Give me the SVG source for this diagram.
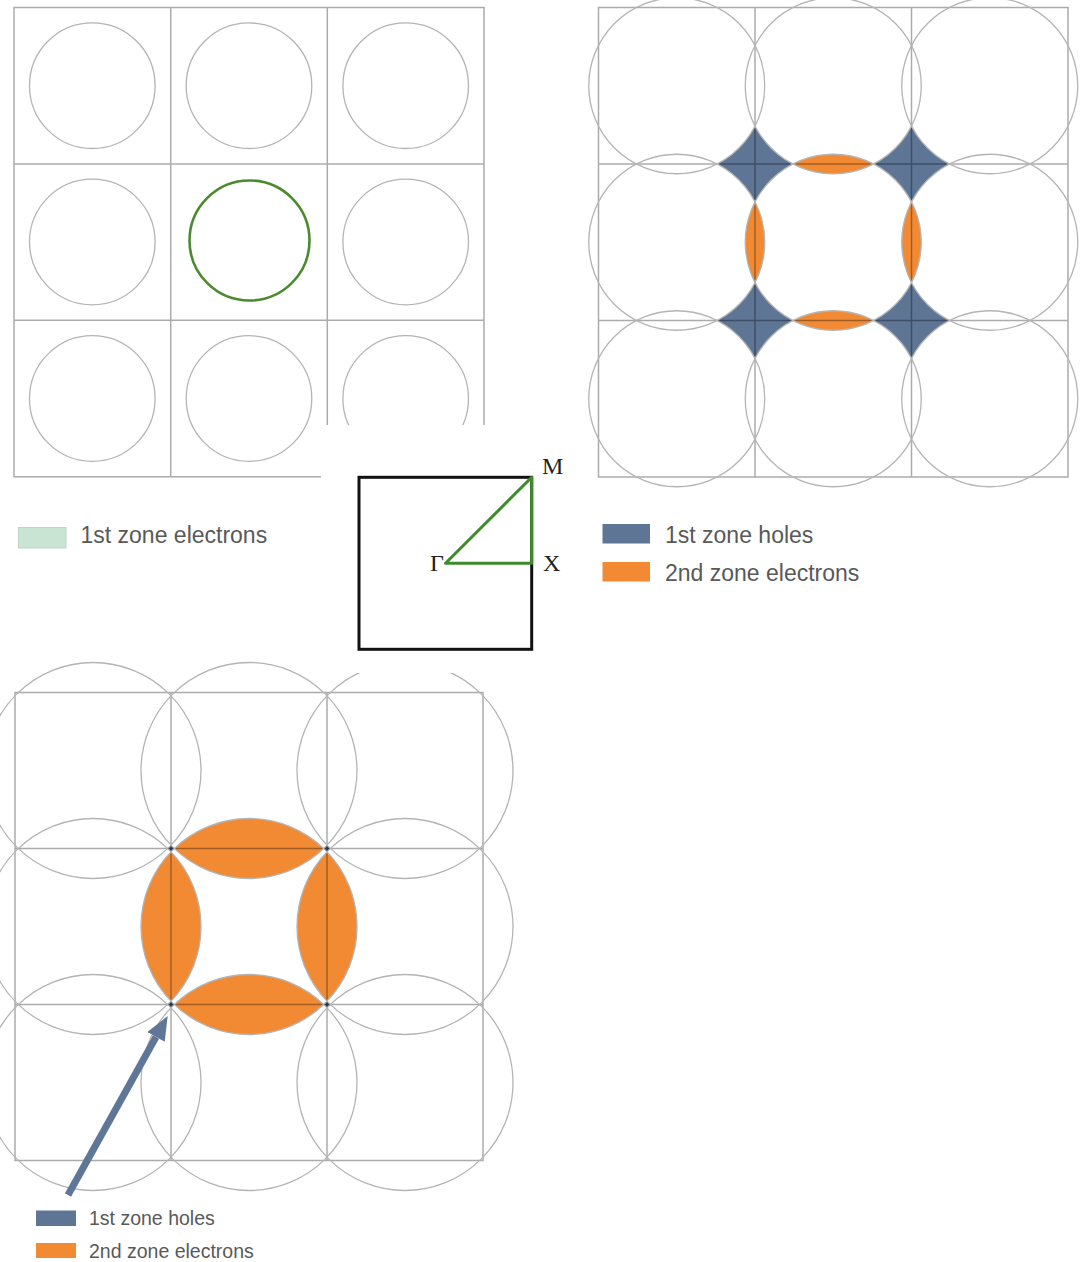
<svg xmlns="http://www.w3.org/2000/svg" width="1083" height="1262" viewBox="0 0 1083 1262">
<style>
.grid{fill:none;stroke:#000;stroke-opacity:0.33;stroke-width:1.5}
.circ{fill:none;stroke:#b4b4b4;stroke-width:1.3}
.hole{fill:#5e7595}
.hole2{fill:#425775}
.elec{fill:#f28a33}
.lbl{font-family:"Liberation Sans",Arial,sans-serif;fill:#595959}
.sym{font-family:"Liberation Serif","Times New Roman",serif;font-size:24px;fill:#222}
</style>
<defs>
<marker id="ah" markerUnits="userSpaceOnUse" markerWidth="24" markerHeight="20" viewBox="0 -10 24 20" refX="0" refY="0" orient="auto">
<path d="M0,-10 L24,0 L0,10 Z" fill="#5f7696"/>
</marker>
</defs>
<rect width="1083" height="1262" fill="#fff"/>

<!-- Top-left: 1st zone electrons -->
<g id="panel-first-zone">
<path class="grid" d="M14,7.5H484V476.7H14Z M170.7,7.5V476.7 M327.3,7.5V476.7 M14,163.9H484 M14,320.3H484"/>
<circle class="circ" cx="92.3" cy="85.7" r="62.8"/>
<circle class="circ" cx="249" cy="85.7" r="62.8"/>
<circle class="circ" cx="405.7" cy="85.7" r="62.8"/>
<circle class="circ" cx="92.3" cy="242" r="62.8"/>
<circle class="circ" cx="405.7" cy="242" r="62.8"/>
<circle class="circ" cx="92.3" cy="398.5" r="62.8"/>
<circle class="circ" cx="249" cy="398.5" r="62.8"/>
<circle class="circ" cx="405.7" cy="398.5" r="62.8"/>
<circle cx="249.5" cy="240.5" r="60" fill="none" stroke="#4b8a2e" stroke-width="2.6"/>
</g>

<!-- Top-right: holes and 2nd zone electrons -->
<g id="panel-two-zones">
<g class="hole">
<path d="M717,164 A88 88 0 0 0 755,126 A88 88 0 0 0 793,164 A88 88 0 0 0 755,202 A88 88 0 0 0 717,164Z"/>
<path d="M873.5,164 A88 88 0 0 0 911.5,126 A88 88 0 0 0 949.5,164 A88 88 0 0 0 911.5,202 A88 88 0 0 0 873.5,164Z"/>
<path d="M717,320.5 A88 88 0 0 0 755,282.5 A88 88 0 0 0 793,320.5 A88 88 0 0 0 755,358.5 A88 88 0 0 0 717,320.5Z"/>
<path d="M873.5,320.5 A88 88 0 0 0 911.5,282.5 A88 88 0 0 0 949.5,320.5 A88 88 0 0 0 911.5,358.5 A88 88 0 0 0 873.5,320.5Z"/>
</g>
<g class="elec">
<path d="M793,164 A88 88 0 0 0 873.5,164 A88 88 0 0 0 793,164Z"/>
<path d="M793,320.5 A88 88 0 0 0 873.5,320.5 A88 88 0 0 0 793,320.5Z"/>
<path d="M755,202 A88 88 0 0 0 755,282.5 A88 88 0 0 0 755,202Z"/>
<path d="M911.5,202 A88 88 0 0 0 911.5,282.5 A88 88 0 0 0 911.5,202Z"/>
</g>
<path class="grid" d="M598.5,7.5H1068V477H598.5Z M755,7.5V477 M911.5,7.5V477 M598.5,164H1068 M598.5,320.5H1068"/>
<circle class="circ" cx="676.75" cy="85.75" r="88"/>
<circle class="circ" cx="833.25" cy="85.75" r="88"/>
<circle class="circ" cx="989.75" cy="85.75" r="88"/>
<circle class="circ" cx="676.75" cy="242.25" r="88"/>
<circle class="circ" cx="833.25" cy="242.25" r="88"/>
<circle class="circ" cx="989.75" cy="242.25" r="88"/>
<circle class="circ" cx="676.75" cy="398.75" r="88"/>
<circle class="circ" cx="833.25" cy="398.75" r="88"/>
<circle class="circ" cx="989.75" cy="398.75" r="88"/>
</g>

<!-- Bottom: larger Fermi circle -->
<g id="panel-bottom">
<g class="elec">
<path d="M174.3,848.5 A108 108 0 0 0 323.7,848.5 A108 108 0 0 0 174.3,848.5Z"/>
<path d="M174.3,1004.5 A108 108 0 0 0 323.7,1004.5 A108 108 0 0 0 174.3,1004.5Z"/>
<path d="M171,851.8 A108 108 0 0 0 171,1001.2 A108 108 0 0 0 171,851.8Z"/>
<path d="M327,851.8 A108 108 0 0 0 327,1001.2 A108 108 0 0 0 327,851.8Z"/>
</g>
<g class="hole2">
<path d="M167.7,848.5 A108 108 0 0 0 171,845.2 A108 108 0 0 0 174.3,848.5 A108 108 0 0 0 171,851.8 A108 108 0 0 0 167.7,848.5Z"/>
<path d="M323.7,848.5 A108 108 0 0 0 327,845.2 A108 108 0 0 0 330.3,848.5 A108 108 0 0 0 327,851.8 A108 108 0 0 0 323.7,848.5Z"/>
<path d="M167.7,1004.5 A108 108 0 0 0 171,1001.2 A108 108 0 0 0 174.3,1004.5 A108 108 0 0 0 171,1007.8 A108 108 0 0 0 167.7,1004.5Z"/>
<path d="M323.7,1004.5 A108 108 0 0 0 327,1001.2 A108 108 0 0 0 330.3,1004.5 A108 108 0 0 0 327,1007.8 A108 108 0 0 0 323.7,1004.5Z"/>
</g>
<path class="grid" d="M15,692.5H483V1160.5H15Z M171,692.5V1160.5 M327,692.5V1160.5 M15,848.5H483 M15,1004.5H483"/>
<circle class="circ" cx="93" cy="770.5" r="108"/>
<circle class="circ" cx="249" cy="770.5" r="108"/>
<circle class="circ" cx="405" cy="770.5" r="108"/>
<circle class="circ" cx="93" cy="926.5" r="108"/>
<circle class="circ" cx="249" cy="926.5" r="108"/>
<circle class="circ" cx="405" cy="926.5" r="108"/>
<circle class="circ" cx="93" cy="1082.5" r="108"/>
<circle class="circ" cx="249" cy="1082.5" r="108"/>
<circle class="circ" cx="405" cy="1082.5" r="108"/>
</g>

<!-- inset background -->
<rect x="321" y="425" width="255" height="248" fill="#fff"/>

<!-- Brillouin zone inset -->
<g id="bz-inset">
<rect x="359" y="477.3" width="172.7" height="172" fill="none" stroke="#111" stroke-width="3"/>
<path d="M445.5,563.3 L531.7,477.3 L531.7,563.3 Z" fill="none" stroke="#3f8a2c" stroke-width="3" stroke-linejoin="round"/>
<text class="sym" x="542" y="474">M</text>
<text class="sym" x="430" y="571">Γ</text>
<text class="sym" x="543" y="571">X</text>
</g>

<!-- Legends -->
<g id="legend-first">
<rect x="18.5" y="527.5" width="47.5" height="20.5" fill="#cae4d3" stroke="#b9d7c3" stroke-width="1"/>
<text class="lbl" x="80.5" y="543" font-size="23">1st zone electrons</text>
</g>
<g id="legend-top-right">
<rect x="602.5" y="524" width="47.5" height="19.5" class="hole"/>
<text class="lbl" x="665" y="542.5" font-size="23">1st zone holes</text>
<rect x="602.5" y="562" width="47.5" height="19.5" class="elec"/>
<text class="lbl" x="665" y="581" font-size="23">2nd zone electrons</text>
</g>
<g id="legend-bottom">
<rect x="36" y="1210.5" width="40" height="15.5" class="hole"/>
<text class="lbl" x="89" y="1225" font-size="19.5">1st zone holes</text>
<rect x="36" y="1243" width="40" height="15" class="elec"/>
<text class="lbl" x="89" y="1258" font-size="19.5">2nd zone electrons</text>
</g>

<!-- Connectors -->
<g id="connectors">
<line x1="68" y1="1195" x2="156" y2="1037" stroke="#5f7696" stroke-width="7" marker-end="url(#ah)"/>
</g>
</svg>
